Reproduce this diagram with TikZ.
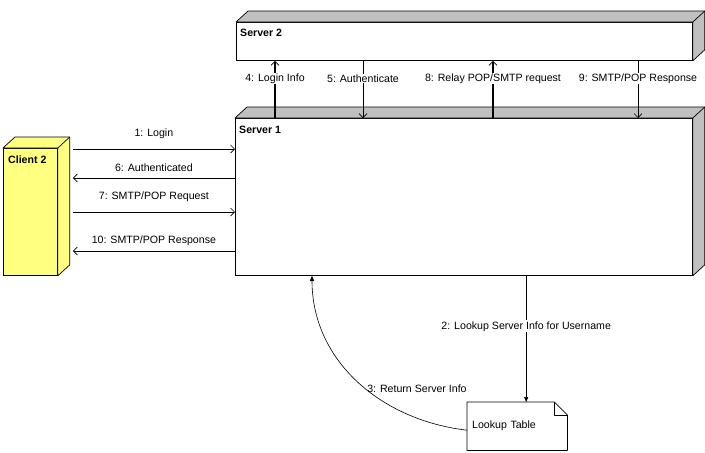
\documentclass[tikz,border=0pt]{standalone}
\usepackage{fontspec}
\setmainfont{Liberation Sans}
\usetikzlibrary{arrows.meta, calc}

\definecolor{srvgray}{RGB}{192,192,192}
\definecolor{clyellow}{RGB}{255,255,128}

\begin{document}
\begin{tikzpicture}[x=1pt, y=-1pt,
    box/.style={draw=black, line width=0.8pt, fill=white, inner sep=0pt, anchor=north west},
    face/.style={draw=black, line width=0.7pt, line join=round},
    title/.style={anchor=west, inner sep=0pt, font=\fontsize{10.6}{12}\selectfont\bfseries},
    msg/.style={line width=0.9pt, -{Straight Barb[length=4pt, width=8pt, line width=0.7pt]}},
    call/.style={line width=0.6pt, -{Triangle[length=5pt, width=4pt]}},
    lbl/.style={fill=white, inner sep=1pt, font=\fontsize{10.6}{12}\selectfont}]
    \useasboundingbox (0,0) rectangle (705,453);

    % front faces
    \node[box, minimum width=456pt, minimum height=38pt] (s2) at (236,22) {};
    \node[box, minimum width=457pt, minimum height=157pt] (s1) at (235,118) {};
    \node[box, fill=clyellow, minimum width=54pt, minimum height=127pt] (cl) at (3,148) {};

    % top and side faces
    \foreach \b/\c in {s2/srvgray, s1/srvgray, cl/clyellow} {
        \filldraw[face, fill=\c] (\b.north west) -- ++(12,-11) -- ($(\b.north east)+(12,-11)$)
            -- ($(\b.south east)+(12,-11)$) -- (\b.south east) -- (\b.north east) -- cycle;
        \draw[face] (\b.north east) -- ++(12,-11);
    }
    \node[title] at ($(s2.north west)+(4,11)$) {Server 2};
    \node[title] at ($(s1.north west)+(4,12)$) {Server 1};
    \node[title] at ($(cl.north west)+(5,12)$) {Client 2};

    % lookup table (note)
    \node[inner xsep=5pt, text width=90pt, align=left, minimum height=48pt, anchor=north west,
          font=\fontsize{10.6}{12}\selectfont] (lt) at (467,402) {Lookup Table};
    \draw[face] (lt.north west) -- ([xshift=-13pt]lt.north east) -- ([yshift=-13pt]lt.north east)
        -- (lt.south east) -- (lt.south west) -- cycle;
    \draw[face] ([xshift=-13pt]lt.north east) |- ([yshift=-13pt]lt.north east);

    % client <-> server 1
    \coordinate (cr) at ([xshift=15pt]cl.east);
    \draw[msg] (cr |- 0,149) -- (s1.west |- 0,149) node[lbl, midway, yshift=15pt] {1: Login};
    \draw[msg] (s1.west |- 0,178) -- (cr |- 0,178) node[lbl, midway, yshift=10pt] {6: Authenticated};
    \draw[msg] (cr |- 0,212) -- (s1.west |- 0,212) node[lbl, midway, yshift=15pt] {7: SMTP/POP Request};
    \draw[msg] (s1.west |- 0,251) -- (cr |- 0,251) node[lbl, midway, yshift=10pt] {10: SMTP/POP Response};

    % server 1 <-> server 2
    \coordinate (a4) at ([xshift=40pt]s1.north west);
    \coordinate (a5) at ([xshift=128pt]s1.north west);
    \coordinate (a8) at ([xshift=258pt]s1.north west);
    \coordinate (a9) at ([xshift=403pt]s1.north west);
    \draw[msg, line width=1.1pt] (a4) -- (a4 |- s2.south) node[lbl, pos=0.69] {4: Login Info};
    \draw[msg, line width=0.6pt] (a5 |- s2.south) -- (a5) node[lbl, pos=0.31] {5: Authenticate};
    \draw[msg, line width=1.1pt] (a8) -- (a8 |- s2.south) node[lbl, pos=0.69] {8: Relay POP/SMTP request};
    \draw[msg, line width=0.6pt] (a9 |- s2.south) -- (a9) node[lbl, pos=0.31] {9: SMTP/POP Response};

    % server 1 <-> lookup table
    \coordinate (lk) at ([xshift=9pt]lt.north);
    \draw[call] (lk |- s1.south) -- (lk) node[lbl, pos=0.40] {2: Lookup Server Info for Username};
    \draw[call] ([yshift=-4pt]lt.west) .. controls +(-86,-10) and +(0,85) .. ([xshift=77pt]s1.south west)
        node[lbl, fill=none, pos=0.45, anchor=west] {3: Return Server Info};
\end{tikzpicture}
\end{document}
